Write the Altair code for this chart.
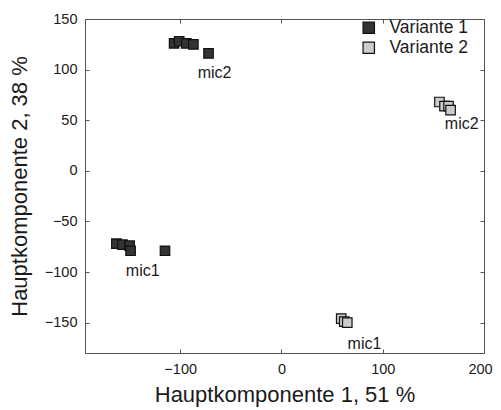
import altair as alt
import pandas as pd

# Variante 1 (dark squares)
v1_x = [-106, -101, -94, -87, -72, -163, -157, -150, -149, -115]
v1_y = [126, 128, 126, 125, 116, -72, -73, -74, -79, -79]
# Variante 2 (light squares)
v2_x = [156, 161, 165, 167, 59, 62, 65]
v2_y = [68, 64, 64, 60, -146, -149, -150]
series = ["Variante 1", "Variante 2"]

# annotations
labels = ["mic2", "mic1", "mic2", "mic1"]
label_x = [-66, -137, 178, 82]
label_y = [97, -99, 46, -171]

x_ticks = [-100, 0, 100, 200]
y_ticks = [-150, -100, -50, 0, 50, 100, 150]
x_domain = [-194, 200]
y_domain = [-180, 150]

FONT = "Liberation Sans"

pts = pd.DataFrame({
    "x": v1_x + v2_x,
    "y": v1_y + v2_y,
    "Variante": [series[0]] * len(v1_x) + [series[1]] * len(v2_x),
})
lab = pd.DataFrame({"x": label_x, "y": label_y, "t": labels})

xs = alt.Scale(domain=x_domain, nice=False, zero=False)
ys = alt.Scale(domain=y_domain, nice=False, zero=False)

points = alt.Chart(pts).mark_square(size=90, opacity=1, stroke="#111111", strokeWidth=1.2).encode(
    x=alt.X("x:Q", scale=xs, title="Hauptkomponente 1, 51 %",
            axis=alt.Axis(orient="bottom", values=x_ticks, offset=-4, tickSize=4, domain=False,
                          labelFlush=False, labelPadding=9, titlePadding=9,
                          labelOffset={"condition": {"test": "datum.value === 200", "value": -4}, "value": 0})),
    y=alt.Y("y:Q", scale=ys, title="Hauptkomponente 2, 38 %",
            axis=alt.Axis(orient="left", values=y_ticks, offset=-4, tickSize=4, domain=False,
                          labelFlush=False, labelPadding=8, titlePadding=13)),
    color=alt.Color("Variante:N",
                    scale=alt.Scale(domain=series, range=["#333333", "#cccccc"]),
                    legend=alt.Legend(title=None, orient="none", legendX=275, legendY=0,
                                      symbolType="square", symbolSize=130,
                                      symbolStrokeColor="#111111", symbolStrokeWidth=1.2,
                                      labelFontSize=17.5, labelOffset=12, rowPadding=1,
                                      padding=0, labelFont=FONT, labelColor="#1a1a1a")),
)

mirror = alt.Chart(pts).mark_square(opacity=0).encode(
    x=alt.X("x:Q", scale=xs, title=None,
            axis=alt.Axis(orient="top", values=x_ticks, offset=-4, tickSize=4, domain=False, labels=False)),
    y=alt.Y("y:Q", scale=ys, title=None,
            axis=alt.Axis(orient="right", values=y_ticks, offset=-4, tickSize=4, domain=False, labels=False)),
)

texts = alt.Chart(lab).mark_text(font=FONT, fontSize=16, color="#1a1a1a", align="center", baseline="middle").encode(
    x=alt.X("x:Q", scale=xs, axis=None),
    y=alt.Y("y:Q", scale=ys, axis=None),
    text="t:N",
)

chart = alt.layer(points, mirror, texts).resolve_axis(x="independent", y="independent").properties(
    width=399, height=334,
    autosize=alt.AutoSizeParams(type="none"),
    padding={"left": 77, "top": 11, "right": 9, "bottom": 55},
).configure_view(stroke="#555555", strokeWidth=1).configure_axis(
    labelFont=FONT, labelFontSize=14.5, labelColor="#1a1a1a",
    titleFont=FONT, titleFontSize=22, titleFontWeight="normal", titleColor="#1a1a1a",
    tickColor="#555555", grid=False,
)

chart.save("out.html", embed_options={"renderer": "svg", "actions": False})
